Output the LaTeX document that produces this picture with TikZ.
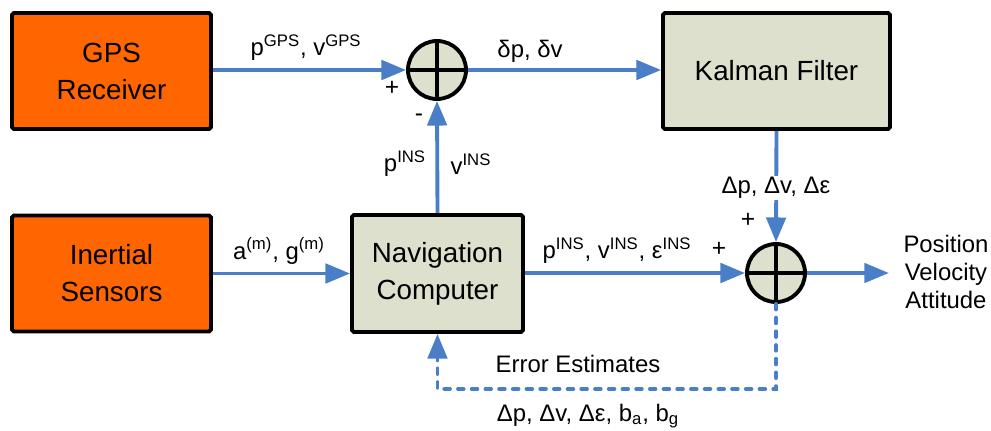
\documentclass[tikz,border=0pt]{standalone}
\usepackage{fontspec}
\setmainfont{Liberation Sans}
\usetikzlibrary{arrows.meta}
\definecolor{gpsorange}{RGB}{255,102,0}
\definecolor{boxgray}{RGB}{221,224,204}
\definecolor{flowblue}{RGB}{74,126,199}

\begin{document}
\begin{tikzpicture}[x=0.02cm,y=-0.02cm,
  block/.style={draw,line width=2.2pt,rounded corners=1pt,align=center,
    fill=boxgray,inner sep=2pt,font=\fontsize{15.8}{21}\selectfont},
  sensor/.style={block,fill=gpsorange,minimum width=3.98cm,minimum height=2.32cm},
  summer/.style={circle,draw,line width=2.2pt,fill=boxgray,inner sep=0pt,
    minimum size=1.16cm,
    path picture={\draw[line width=2.2pt]
      (path picture bounding box.north) -- (path picture bounding box.south)
      (path picture bounding box.west) -- (path picture bounding box.east);}},
  flow/.style={-{Triangle[length=14pt,width=11pt]},line width=2.2pt,flowblue},
  feedback/.style={flow,line cap=round,dash pattern=on 3.2pt off 4.6pt},
  lbl/.style={inner sep=1pt,align=center,font=\fontsize{13.6}{16}\selectfont},
  sign/.style={inner sep=0pt,font=\fontsize{14}{16}\selectfont}]
\useasboundingbox (0,0) rectangle (991,430);

% blocks
\node[sensor] (gps) at (111.5,71) {GPS\\Receiver};
\node[sensor] (imu) at (111.5,273.5) {Inertial\\Sensors};
\node[block,minimum width=3.42cm,minimum height=2.34cm] (nav) at (437.5,273.5)
  {Navigation\\Computer};
\node[block,minimum width=4.54cm,minimum height=2.32cm] (kf) at (776.5,71)
  {Kalman Filter};
\node[summer] (sum1) at (437,70) {};
\node[summer] (sum2) at (776,273) {};
\coordinate (fb) at (776,389);

% connectors
\draw[flow] (gps.east |- sum1) -- (sum1.west);
\draw[flow] (nav.north) -- (sum1.south);
\draw[flow] (sum1.east) -- (kf.west |- sum1);
\draw[flow] (imu.east) -- (nav.west);
\draw[flow] (nav.east |- sum2) -- (sum2.west);
\draw[flow] (kf.south) -- (sum2.north);
\draw[flow] (sum2.east) -- ++(82,0) coordinate (out);
\draw[feedback] (sum2.south) -- (fb) -| (nav.south);

% labels
\node[lbl] (lgps) at (306,48) {p\textsuperscript{GPS}, v\textsuperscript{GPS}};
\node[lbl] (ldelta) at (530,51) {δp, δv};
\node[lbl] (lpins) at (405,164) {p\textsuperscript{INS}};
\node[lbl] (lvins) at (471,164) {v\textsuperscript{INS}};
\node[lbl] (limu) at (279,251) {a\textsuperscript{(m)}, g\textsuperscript{(m)}};
\node[lbl] (lnav) at (617,251) {p\textsuperscript{INS}, v\textsuperscript{INS}, ε\textsuperscript{INS}};
\node[lbl,fill=white] (lkf) at (776,188) {Δp, Δv, Δε};
\node[lbl] (lout) at (946,272) {Position\\Velocity\\Attitude};
\node[lbl] (lerr) at (578,364) {Error Estimates};
\node[lbl] (lest) at (588,416) {Δp, Δv, Δε, b\textsubscript{a}, b\textsubscript{g}};
\node[sign] (s1) at (392,88) {+};
\node[sign] (s2) at (419,118) {-};
\node[sign] (s3) at (719,249) {+};
\node[sign] (s4) at (748,220) {+};
\end{tikzpicture}
\end{document}
